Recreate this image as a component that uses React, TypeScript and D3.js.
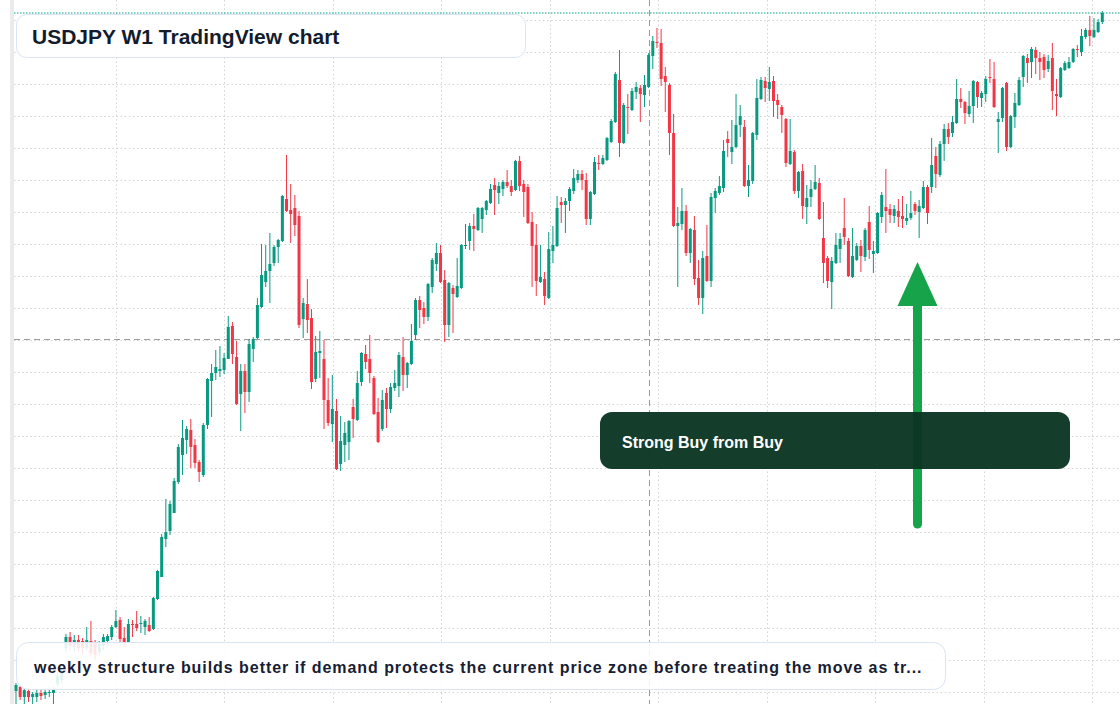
import * as d3 from 'd3';

// weekly USDJPY candles
const opens = [
  100.9, 101.3, 100.3, 100.9, 100.3, 100.3, 100.7, 100.5, 100.7, 100.7,
  101.6, 102.0, 105.2, 106.3, 105.3, 106.0, 105.9, 105.2, 105.9, 105.7,
  104.8, 105.4, 105.9, 106.3, 107.3, 108.0, 106.2, 105.8, 107.6, 107.6,
  107.6, 107.3, 107.5, 107.1, 110.1, 112.3, 116.1, 116.9, 118.7, 121.8,
  124.5, 126.0, 127.0, 125.5, 123.8, 122.5, 127.5, 131.9, 132.7, 132.9,
  133.0, 134.1, 137.4, 134.3, 130.6, 132.9, 130.8, 135.1, 136.2, 139.3,
  141.8, 142.9, 143.7, 145.3, 145.9, 150.1, 149.0, 149.2, 148.4, 138.1,
  139.6, 138.2, 132.1, 134.7, 134.1, 130.0, 127.6, 128.9, 123.6, 125.5,
  125.8, 129.3, 128.0, 131.8, 134.6, 134.1, 132.2, 128.8, 127.1, 130.7,
  129.1, 131.2, 131.4, 134.3, 132.5, 133.6, 136.5, 140.0, 139.2, 138.3,
  141.3, 143.6, 144.7, 142.0, 137.5, 141.2, 140.3, 141.2, 145.4, 145.9,
  147.4, 147.0, 148.1, 149.0, 149.7, 151.5, 150.7, 151.1, 151.8, 151.4,
  151.0, 153.9, 151.6, 151.3, 147.8, 145.5, 141.8, 142.1, 140.2, 144.9,
  145.4, 149.8, 149.5, 149.9, 150.9, 152.0, 152.6, 152.0, 148.1, 150.6,
  153.7, 153.6, 154.0, 155.8, 157.8, 162.0, 155.7, 159.3, 159.0, 160.8,
  161.2, 160.5, 161.3, 164.4, 165.8, 165.7, 162.4, 161.5, 156.7, 147.4,
  147.6, 148.9, 144.7, 147.0, 142.2, 140.2, 144.4, 141.9, 150.2, 150.7,
  151.2, 156.1, 154.8, 155.3, 157.5, 157.3, 151.4, 151.9, 156.5, 160.1,
  161.9, 161.1, 161.9, 160.0, 159.3, 158.1, 153.6, 154.8, 150.9, 152.9,
  149.3, 150.3, 151.1, 151.7, 146.2, 144.2, 141.8, 143.7, 145.1, 147.2,
  145.9, 142.3, 144.0, 145.4, 144.3, 147.8, 144.6, 144.7, 148.3, 149.3,
  149.1, 148.4, 148.9, 148.4, 147.9, 148.2, 149.6, 148.8, 149.2, 151.3,
  151.3, 154.4, 152.5, 155.6, 157.1, 156.7, 157.7, 160.1, 159.8, 158.6,
  159.4, 161.8, 160.2, 160.6, 162.3, 162.1, 157.8, 158.2, 161.7, 155.3,
  158.3, 159.5, 162.3, 164.2, 163.8, 165.0, 164.2, 164.3, 163.1, 164.2,
  160.6, 160.3, 163.0, 163.2, 163.8, 165.1, 164.8, 166.3, 167.0, 166.3,
  166.8, 167.8,
];
const highs = [
  101.7, 101.4, 101.2, 101.2, 100.8, 101.0, 101.0, 101.1, 101.2, 101.3,
  102.8, 103.2, 106.6, 106.8, 106.5, 106.5, 106.2, 107.3, 107.9, 106.0,
  105.9, 106.6, 106.6, 107.5, 109.0, 108.3, 107.3, 108.1, 108.0, 108.9,
  108.4, 108.1, 108.3, 110.3, 113.0, 116.6, 120.1, 119.9, 122.2, 125.6,
  128.0, 127.4, 128.1, 126.1, 124.0, 127.7, 132.2, 133.6, 135.0, 135.4,
  134.7, 138.4, 137.8, 135.9, 133.6, 133.6, 136.1, 136.3, 140.2, 145.6,
  145.5, 146.7, 145.5, 146.1, 150.5, 154.5, 151.6, 150.5, 148.9, 140.2,
  142.1, 139.1, 136.4, 136.9, 136.0, 132.2, 132.5, 130.1, 128.4, 127.8,
  128.0, 130.1, 132.9, 134.8, 135.5, 136.5, 132.4, 130.2, 131.0, 131.2,
  131.7, 133.0, 134.8, 136.3, 133.8, 137.6, 140.2, 140.4, 139.8, 141.7,
  144.2, 145.7, 145.5, 143.0, 141.8, 141.5, 144.2, 145.6, 147.6, 147.7,
  148.6, 149.3, 149.3, 150.0, 151.6, 152.2, 151.8, 152.0, 153.0, 152.0,
  154.0, 154.4, 152.0, 151.6, 148.8, 147.6, 145.5, 142.8, 146.8, 147.4,
  150.4, 150.3, 150.2, 151.3, 153.1, 153.0, 153.0, 152.7, 150.9, 154.3,
  154.5, 154.5, 156.3, 158.1, 162.8, 165.0, 159.7, 160.6, 161.2, 161.8,
  161.5, 162.5, 164.7, 166.4, 167.2, 167.1, 163.3, 161.7, 158.6, 149.3,
  151.2, 149.5, 147.2, 148.4, 144.0, 144.9, 147.5, 150.7, 151.2, 152.4,
  156.0, 156.9, 158.0, 160.6, 159.5, 158.0, 153.5, 156.8, 162.1, 162.3,
  162.3, 163.3, 162.4, 160.6, 159.5, 158.2, 158.1, 155.0, 152.9, 153.6,
  151.5, 152.0, 153.5, 152.2, 149.8, 144.4, 144.3, 146.7, 146.7, 150.2,
  146.2, 147.2, 145.7, 146.0, 147.2, 149.4, 145.9, 148.8, 150.8, 153.1,
  149.6, 149.5, 150.1, 150.4, 149.6, 150.9, 149.8, 150.0, 151.9, 151.5,
  156.2, 155.3, 155.9, 157.6, 157.7, 158.4, 162.1, 161.2, 159.9, 160.9,
  162.0, 161.9, 160.9, 162.4, 164.1, 163.8, 158.8, 161.3, 161.8, 158.5,
  160.7, 162.3, 164.5, 164.6, 165.3, 165.3, 164.8, 164.6, 164.5, 165.7,
  162.1, 163.3, 163.9, 164.3, 165.2, 165.5, 167.1, 167.2, 168.4, 168.2,
  168.1, 168.9,
];
const lows = [
  99.4, 100.0, 99.4, 99.8, 99.6, 99.8, 100.0, 100.1, 100.3, 99.4,
  101.4, 101.7, 104.8, 105.0, 104.8, 104.8, 104.6, 104.9, 104.4, 104.0,
  104.4, 105.0, 105.7, 106.0, 107.2, 105.8, 105.3, 105.7, 106.3, 106.9,
  106.7, 106.5, 106.8, 107.0, 110.0, 112.3, 115.3, 116.5, 118.7, 121.6,
  122.5, 124.6, 123.2, 123.2, 121.8, 122.3, 127.1, 128.3, 132.0, 132.3,
  132.6, 134.1, 133.6, 129.5, 126.9, 128.7, 129.8, 133.8, 136.1, 139.2,
  141.3, 139.7, 143.4, 143.7, 145.8, 148.8, 145.7, 146.4, 137.2, 136.2,
  136.7, 131.1, 131.8, 132.2, 127.1, 127.4, 125.8, 123.0, 122.9, 123.8,
  124.0, 126.2, 127.9, 131.4, 133.1, 131.7, 128.5, 125.7, 126.9, 127.2,
  128.7, 130.9, 130.3, 130.9, 131.2, 133.5, 136.0, 137.2, 137.6, 137.9,
  140.7, 142.9, 141.7, 135.8, 136.3, 136.7, 140.2, 141.1, 145.1, 145.0,
  144.9, 146.9, 146.7, 148.5, 149.6, 148.5, 149.6, 150.4, 151.2, 150.4,
  150.9, 150.9, 148.3, 147.6, 141.3, 140.4, 141.7, 139.5, 140.1, 143.7,
  145.3, 147.7, 146.7, 148.9, 150.6, 151.7, 151.0, 147.5, 147.5, 150.5,
  153.0, 153.5, 153.9, 155.7, 157.7, 154.3, 155.6, 156.6, 158.9, 160.1,
  157.8, 159.3, 161.2, 163.1, 165.2, 161.4, 158.8, 154.5, 147.3, 141.3,
  147.0, 144.4, 143.7, 141.5, 139.5, 138.6, 141.8, 141.3, 148.7, 150.5,
  150.8, 154.3, 153.6, 155.2, 156.3, 151.3, 150.3, 151.6, 156.0, 160.0,
  159.8, 159.9, 158.3, 158.1, 156.7, 153.3, 153.5, 150.6, 150.2, 148.1,
  147.6, 149.3, 151.0, 148.0, 141.7, 141.2, 139.1, 143.6, 143.7, 145.5,
  142.3, 142.2, 143.9, 142.8, 143.9, 144.1, 142.7, 144.6, 147.7, 146.7,
  147.7, 147.7, 147.3, 147.2, 147.5, 148.0, 148.5, 146.2, 149.1, 147.6,
  150.7, 151.2, 152.3, 153.9, 155.6, 156.3, 157.6, 159.2, 157.6, 158.3,
  157.7, 159.2, 159.3, 159.8, 161.7, 159.2, 154.7, 157.8, 154.9, 155.2,
  157.2, 159.4, 161.3, 161.7, 162.2, 162.6, 162.0, 162.2, 162.8, 159.0,
  158.4, 160.2, 162.9, 163.1, 163.7, 164.3, 164.4, 166.1, 165.4, 166.2,
  166.7, 167.6,
];
const closes = [
  101.5, 100.3, 101.0, 100.3, 100.6, 100.7, 100.4, 100.8, 100.8, 101.0,
  102.4, 102.9, 106.3, 105.4, 106.0, 105.2, 105.2, 106.0, 104.7, 104.5,
  105.6, 106.3, 106.4, 107.3, 107.9, 106.1, 105.8, 107.6, 107.5, 107.2,
  107.7, 107.9, 106.9, 110.2, 112.9, 116.3, 116.8, 119.6, 121.9, 125.3,
  126.2, 127.1, 125.3, 123.7, 122.8, 127.5, 132.1, 132.7, 133.3, 133.1,
  134.2, 137.3, 134.6, 129.6, 132.9, 130.8, 135.6, 136.1, 139.5, 142.5,
  142.9, 143.6, 145.3, 146.0, 150.4, 148.9, 148.6, 147.5, 137.5, 139.7,
  138.0, 131.8, 134.8, 134.9, 130.0, 127.7, 129.1, 123.1, 125.9, 126.7,
  127.9, 128.1, 131.7, 134.7, 133.8, 132.7, 128.6, 125.8, 130.0, 129.1,
  131.3, 131.7, 134.5, 132.5, 133.7, 135.9, 140.0, 139.0, 138.3, 141.6,
  144.0, 144.7, 141.8, 137.5, 141.7, 140.6, 141.4, 145.5, 145.5, 147.4,
  147.1, 149.2, 149.2, 149.9, 151.1, 151.0, 151.4, 151.8, 151.4, 150.8,
  153.9, 151.4, 150.8, 147.7, 145.4, 141.9, 142.3, 140.4, 145.1, 145.5,
  149.2, 149.5, 149.9, 151.1, 152.2, 152.6, 152.0, 148.1, 150.8, 153.8,
  153.6, 154.2, 156.2, 157.9, 162.6, 155.7, 159.5, 159.2, 160.9, 161.3,
  160.6, 161.5, 164.5, 165.9, 165.7, 162.1, 161.8, 156.7, 147.4, 147.7,
  148.9, 144.7, 147.1, 142.1, 140.2, 144.2, 141.9, 150.3, 150.9, 151.4,
  154.9, 155.7, 155.3, 157.5, 158.4, 151.4, 152.0, 156.7, 160.2, 162.0,
  161.2, 161.8, 159.9, 159.5, 158.5, 153.7, 154.9, 150.9, 152.8, 149.4,
  150.2, 151.1, 151.8, 148.1, 143.7, 141.9, 143.9, 145.5, 146.1, 146.3,
  142.4, 144.4, 145.4, 144.4, 147.0, 145.0, 144.9, 148.7, 150.5, 148.9,
  148.5, 149.1, 148.3, 148.1, 148.2, 148.7, 148.9, 149.4, 151.3, 148.7,
  153.5, 152.6, 155.6, 157.1, 156.3, 157.8, 160.1, 159.8, 158.7, 159.4,
  161.9, 160.3, 160.7, 162.1, 162.2, 159.3, 158.1, 161.2, 155.3, 158.4,
  159.7, 162.0, 164.4, 163.7, 165.1, 164.2, 163.8, 163.0, 163.9, 160.9,
  160.4, 163.2, 163.7, 163.8, 165.1, 165.0, 166.4, 167.0, 166.4, 167.0,
  167.8, 168.7,
];

// crosshair + annotation, in chart units (candle index / price)
const crossIndex = 152.2;
const crossPrice = 136.15;
const arrowIndex = 216.6;
const arrowTip = 143.8;
const arrowBase = 139.4;
const arrowTail = 117.6;

const titleText = 'USDJPY W1 TradingView chart';
const signalText = 'Strong Buy from Buy';
const noteText =
  'weekly structure builds better if demand protects the current price zone before treating the move as tr...';

const W = 1120;
const H = 704;
const UP = '#089981';
const DOWN = '#f23645';
const FONT = '"Liberation Sans", Arial, sans-serif';

export default function App() {
  const n = closes.length;
  const x = d3.scaleLinear().domain([0, n - 1]).range([16, 1102.3]);
  const y = d3.scaleLinear().domain([100, 170]).range([700, 0]);

  const hGrid = d3.range(168, 100.5, -3.2);
  const vGrid = d3.range(0, 10).map(k => 24 + k * 26.07);

  const candles = d3.range(n).map(i => ({
    i,
    o: opens[i],
    h: highs[i],
    l: lows[i],
    c: closes[i],
  }));

  const ax = x(arrowIndex);

  return (
    <svg
      width={W}
      height={H}
      viewBox={`0 0 ${W} ${H}`}
      style={{ position: 'absolute', left: 0, top: 0, background: '#fff', fontFamily: FONT }}
    >
      <rect x={10} y={0} width={4} height={H} fill="#ebebeb" />

      {/* grid */}
      <g stroke="#d2d2d2" strokeWidth={1} strokeDasharray="1.5 2.6">
        {hGrid.map(p => (
          <line key={'h' + p} x1={14} x2={W} y1={Math.round(y(p)) + 0.5} y2={Math.round(y(p)) + 0.5} />
        ))}
        {vGrid.map(v => (
          <line key={'v' + v} x1={Math.round(x(v)) + 0.5} x2={Math.round(x(v)) + 0.5} y1={0} y2={H} />
        ))}
      </g>

      {/* crosshair */}
      <g stroke="#9b9b9b" strokeWidth={1} strokeDasharray="6 4">
        <line x1={14} x2={W} y1={Math.round(y(crossPrice)) + 0.5} y2={Math.round(y(crossPrice)) + 0.5} />
        <line x1={Math.round(x(crossIndex)) + 0.5} x2={Math.round(x(crossIndex)) + 0.5} y1={0} y2={H} />
      </g>

      {/* candles */}
      <g>
        {candles.map(d => {
          const up = d.c >= d.o;
          const col = up ? UP : DOWN;
          const cx = x(d.i);
          const top = y(Math.max(d.o, d.c));
          const bot = y(Math.min(d.o, d.c));
          return (
            <g key={d.i}>
              <line x1={cx} x2={cx} y1={y(d.h)} y2={y(d.l)} stroke={col} strokeWidth={1} />
              <rect x={cx - 1.5} y={top} width={3} height={Math.max(1, bot - top)} fill={col} />
            </g>
          );
        })}
      </g>

      {/* last price line */}
      <line
        x1={14}
        x2={W}
        y1={y(closes[n - 1])}
        y2={y(closes[n - 1])}
        stroke="#00a383"
        strokeWidth={1}
        strokeDasharray="1.5 1.5"
      />

      {/* title */}
      <rect x={16.5} y={14.5} width={509} height={43} rx={10} fill="#fff" fillOpacity={0.92} stroke="#d9e5f6" />
      <text x={32} y={43.5} fontSize={21} fontWeight={700} fill="#131c2e">
        {titleText}
      </text>

      {/* arrow */}
      <line x1={ax} x2={ax} y1={y(arrowBase)} y2={y(arrowTail)} stroke="#16a34a" strokeWidth={9} strokeLinecap="round" />
      <path
        d={`M${ax},${y(arrowTip)} L${ax + 20},${y(arrowBase)} L${ax - 20},${y(arrowBase)} Z`}
        fill="#16a34a"
      />

      {/* signal box */}
      <rect x={600} y={412} width={470} height={57} rx={12} fill="#0b3623" fillOpacity={0.965} />
      <text x={622} y={448} fontSize={16} fontWeight={700} fill="#fff">
        {signalText}
      </text>

      {/* note */}
      <rect x={16.5} y={642.5} width={929} height={47} rx={12} fill="#fff" fillOpacity={0.88} stroke="#d9e5f6" />
      <text x={34} y={672.5} fontSize={16} fontWeight={700} fill="#172033" letterSpacing={0.95}>
        {noteText}
      </text>
    </svg>
  );
}
